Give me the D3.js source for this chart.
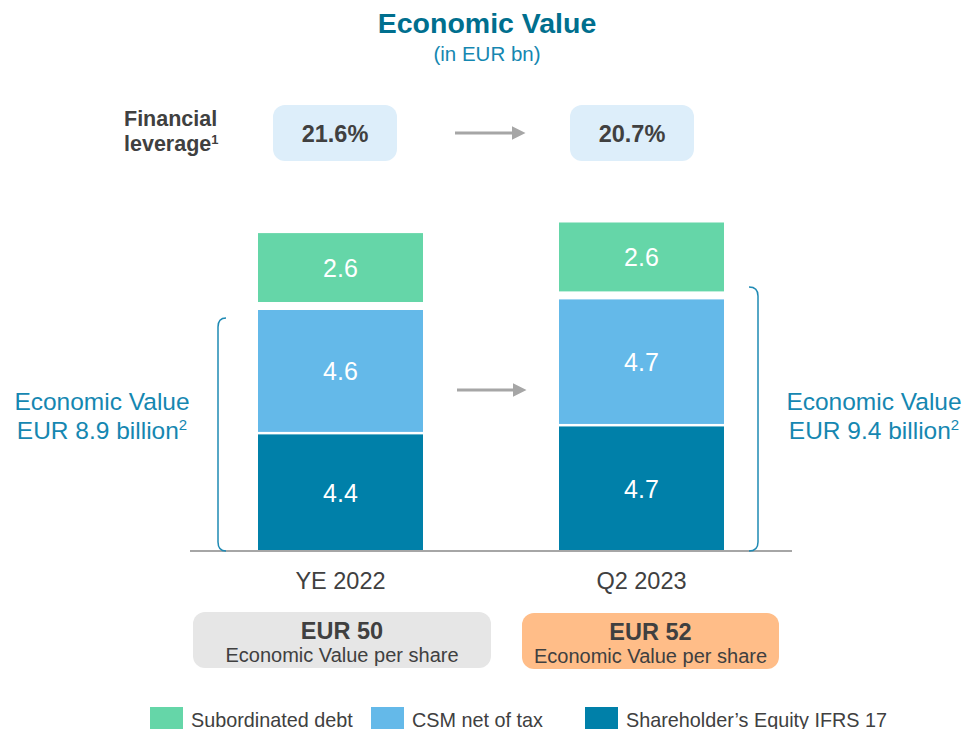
<!DOCTYPE html>
<meta charset="utf-8">
<style>
body {
  margin: 0;
  padding: 0;
  background: #fff;
}
svg text {
  font-family: "Liberation Sans", Arial, sans-serif;
}
.bar-label {
  fill: #fff;
  font-size: 25px;
  text-anchor: middle;
}
.ev-label {
  fill: #1587b1;
  font-size: 24.5px;
  text-anchor: middle;
}
.bracket {
  fill: none;
  stroke: #1f8ab4;
  stroke-width: 1.5px;
}
.arrow {
  stroke: #a6a6a6;
  stroke-width: 3px;
}
</style>
<body>
<script src="https://cdn.jsdelivr.net/npm/d3@7/dist/d3.min.js"></script>
<script>
var categories = ["YE 2022", "Q2 2023"];
var equity = [4.4, 4.7];     // Shareholder's Equity IFRS 17
var csm = [4.6, 4.7];        // CSM net of tax
var subDebt = [2.6, 2.6];    // Subordinated debt
var leverage = ["21.6%", "20.7%"];
var evTotals = ["8.9", "9.4"];
var evPerShare = [50, 52];

var seriesKeys = ["equity", "csm", "subDebt"];
var seriesLabels = {
  subDebt: "Subordinated debt",
  csm: "CSM net of tax",
  equity: "Shareholder\u2019s Equity IFRS 17"
};
var legendOrder = ["subDebt", "csm", "equity"];

var width = 965,
    height = 729,
    baseline = 551;

var colors = {equity: "#0080a9", csm: "#64b9e9", subDebt: "#65d6a8"};
// each segment is shifted up a bit so white gaps show between them
var shift = {equity: 0, csm: 2.5, subDebt: 10.5};

var rows = categories.map(function(c, i) {
  return {cat: c, equity: equity[i], csm: csm[i], subDebt: subDebt[i]};
});

var layers = d3.stack().keys(seriesKeys)(rows);

var x = d3.scalePoint()
    .domain(categories)
    .range([340.5, 641.5]);
var barW = 165;

var y = d3.scaleLinear()
    .domain([0, 10])
    .range([baseline, baseline - 265]);

var svg = d3.select("body").append("svg")
    .attr("width", width)
    .attr("height", height);

var defs = svg.append("defs");
defs.append("marker")
    .attr("id", "head")
    .attr("viewBox", "0 0 10 10")
    .attr("refX", 0)
    .attr("refY", 5)
    .attr("markerWidth", 4.5)
    .attr("markerHeight", 4.5)
    .attr("markerUnits", "strokeWidth")
    .attr("orient", "auto")
  .append("path")
    .attr("d", "M0,0L10,5L0,10Z")
    .attr("fill", "#a6a6a6");

// title
svg.append("text")
    .attr("x", 487)
    .attr("y", 33)
    .attr("text-anchor", "middle")
    .attr("font-size", "28.5px")
    .attr("font-weight", "bold")
    .attr("fill", "#006f8e")
    .text("Economic Value");
svg.append("text")
    .attr("x", 487)
    .attr("y", 60.5)
    .attr("text-anchor", "middle")
    .attr("font-size", "20.5px")
    .attr("fill", "#1587b1")
    .text("(in EUR bn)");

// financial leverage row (two separate lines)
svg.append("text")
    .attr("x", 124)
    .attr("y", 126)
    .attr("font-size", "21.5px")
    .attr("font-weight", "bold")
    .attr("fill", "#404040")
    .text("Financial");
var fl2 = svg.append("text")
    .attr("x", 124)
    .attr("y", 151)
    .attr("font-size", "21.5px")
    .attr("font-weight", "bold")
    .attr("fill", "#404040");
fl2.append("tspan").text("leverage");
fl2.append("tspan").attr("dy", -7).attr("font-size", "13px").text("1");

var levX = [335, 632];
var lev = svg.selectAll(".lev")
    .data(leverage)
  .enter().append("g")
    .attr("class", "lev")
    .attr("transform", function(d, i) { return "translate(" + levX[i] + ",133)"; });
lev.append("rect")
    .attr("x", -62)
    .attr("y", -28)
    .attr("width", 124)
    .attr("height", 56)
    .attr("rx", 12)
    .attr("fill", "#ddeefa");
lev.append("text")
    .attr("y", 8.5)
    .attr("text-anchor", "middle")
    .attr("font-size", "23.5px")
    .attr("font-weight", "bold")
    .attr("fill", "#404040")
    .text(function(d) { return d; });

svg.append("line")
    .attr("class", "arrow")
    .attr("x1", 455).attr("x2", 512)
    .attr("y1", 133).attr("y2", 133)
    .attr("marker-end", "url(#head)");

// stacked bars
var layer = svg.selectAll(".layer")
    .data(layers)
  .enter().append("g")
    .attr("class", "layer")
    .attr("fill", function(d) { return colors[d.key]; });

function segs(d) {
  return d.map(function(p) { return {key: d.key, cat: p.data.cat, y0: p[0], y1: p[1]}; });
}

layer.selectAll("rect")
    .data(segs)
  .enter().append("rect")
    .attr("x", function(d) { return x(d.cat) - barW / 2; })
    .attr("y", function(d) { return y(d.y1) - shift[d.key]; })
    .attr("width", barW)
    .attr("height", function(d) { return y(d.y0) - y(d.y1); });

layer.selectAll("text")
    .data(segs)
  .enter().append("text")
    .attr("class", "bar-label")
    .attr("x", function(d) { return x(d.cat); })
    .attr("y", function(d) { return (y(d.y0) + y(d.y1)) / 2 - shift[d.key] + 9; })
    .text(function(d) { return d3.format(".1f")(d.y1 - d.y0); });

// baseline
svg.append("line")
    .attr("x1", 190).attr("x2", 792)
    .attr("y1", baseline).attr("y2", baseline)
    .attr("stroke", "#a6a6a6")
    .attr("stroke-width", 2);

// middle arrow
svg.append("line")
    .attr("class", "arrow")
    .attr("x1", 457).attr("x2", 513)
    .attr("y1", 390).attr("y2", 390)
    .attr("marker-end", "url(#head)");

// brackets
svg.append("path")
    .attr("class", "bracket")
    .attr("d", "M226,318Q218,318 218,327L218,542Q218,551 226,551");
svg.append("path")
    .attr("class", "bracket")
    .attr("d", "M749,287Q758,287 758,296L758,542Q758,551 749,551");

// economic value annotations
[{cx: 102, v: evTotals[0]}, {cx: 874, v: evTotals[1]}].forEach(function(a) {
  svg.append("text")
      .attr("class", "ev-label")
      .attr("x", a.cx)
      .attr("y", 410)
      .text("Economic Value");
  var t = svg.append("text")
      .attr("class", "ev-label")
      .attr("x", a.cx)
      .attr("y", 439);
  t.append("tspan").text("EUR " + a.v + " billion");
  t.append("tspan").attr("dy", -9).attr("font-size", "15px").text("2");
});

// category labels
svg.selectAll(".cat")
    .data(categories)
  .enter().append("text")
    .attr("class", "cat")
    .attr("x", function(d) { return x(d); })
    .attr("y", 589)
    .attr("text-anchor", "middle")
    .attr("font-size", "23.5px")
    .attr("fill", "#404040")
    .text(function(d) { return d; });

// economic value per share boxes
var boxes = [
  {x0: 193, x1: 491, y0: 612, fill: "#e6e6e6"},
  {x0: 522, x1: 779, y0: 613, fill: "#ffbd88"}
];
var ps = svg.selectAll(".ps")
    .data(evPerShare)
  .enter().append("g")
    .attr("class", "ps");
ps.append("rect")
    .attr("x", function(d, i) { return boxes[i].x0; })
    .attr("y", function(d, i) { return boxes[i].y0; })
    .attr("width", function(d, i) { return boxes[i].x1 - boxes[i].x0; })
    .attr("height", 56)
    .attr("rx", 12)
    .attr("fill", function(d, i) { return boxes[i].fill; });
ps.append("text")
    .attr("x", function(d, i) { return (boxes[i].x0 + boxes[i].x1) / 2; })
    .attr("y", function(d, i) { return boxes[i].y0 + 27; })
    .attr("text-anchor", "middle")
    .attr("font-size", "23.5px")
    .attr("font-weight", "bold")
    .attr("fill", "#404040")
    .text(function(d) { return "EUR " + d; });
ps.append("text")
    .attr("x", function(d, i) { return (boxes[i].x0 + boxes[i].x1) / 2; })
    .attr("y", function(d, i) { return boxes[i].y0 + 50; })
    .attr("text-anchor", "middle")
    .attr("font-size", "20px")
    .attr("fill", "#404040")
    .text("Economic Value per share");

// legend
var legendX = [150, 371, 585];
var leg = svg.selectAll(".legend")
    .data(legendOrder)
  .enter().append("g")
    .attr("class", "legend")
    .attr("transform", function(d, i) { return "translate(" + legendX[i] + ",707)"; });
leg.append("rect")
    .attr("width", 33)
    .attr("height", 24)
    .attr("fill", function(d) { return colors[d]; });
leg.append("text")
    .attr("x", 41)
    .attr("y", 19.5)
    .attr("font-size", "19.8px")
    .attr("fill", "#404040")
    .text(function(d) { return seriesLabels[d]; });
</script>
</body>
